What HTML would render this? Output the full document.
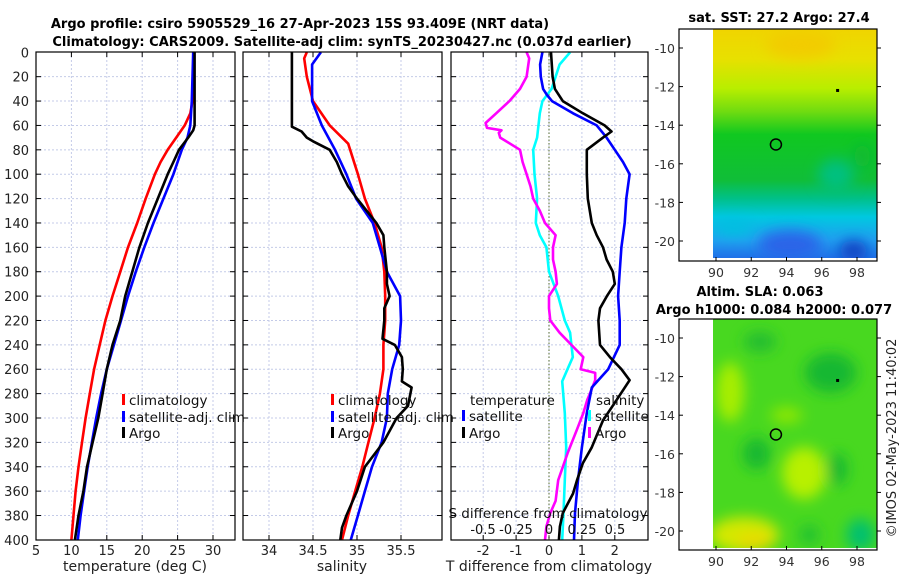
<!DOCTYPE html>
<html><head><meta charset="utf-8">
<style>
html,body{margin:0;padding:0;background:#fff;}
svg{display:block;font-family:"DejaVu Sans","Liberation Sans",sans-serif;}
</style></head>
<body>
<svg id="fig" width="900" height="580" viewBox="0 0 900 580" xmlns="http://www.w3.org/2000/svg">
<defs>
<filter id="blur" x="-50%" y="-50%" width="200%" height="200%"><feGaussianBlur stdDeviation="7"/></filter>
<clipPath id="clip1"><rect x="713" y="29" width="164" height="229"/></clipPath>
<clipPath id="clip2"><rect x="713" y="319" width="164" height="229"/></clipPath>
<linearGradient id="sstgrad" x1="0" y1="29" x2="0" y2="258" gradientUnits="userSpaceOnUse">
<stop offset="0" stop-color="#f0d400"/><stop offset="0.13" stop-color="#e8e000"/>
<stop offset="0.26" stop-color="#b8ee00"/><stop offset="0.36" stop-color="#70dc10"/>
<stop offset="0.46" stop-color="#10c820"/><stop offset="0.66" stop-color="#10be38"/>
<stop offset="0.74" stop-color="#00c088"/><stop offset="0.82" stop-color="#00c8e0"/>
<stop offset="0.92" stop-color="#20a0f0"/><stop offset="1" stop-color="#2070e8"/>
</linearGradient>
</defs>
<text x="300" y="28" text-anchor="middle" font-size="13" font-weight="bold">Argo profile: csiro 5905529_16 27-Apr-2023 15S 93.409E (NRT data)</text>
<text x="342" y="46" text-anchor="middle" font-size="13" font-weight="bold">Climatology: CARS2009. Satellite-adj clim: synTS_20230427.nc (0.037d earlier)</text>
<g id="g"></g>
</svg>
<script>
// ---- data ----
const depthTicks=[0,20,40,60,80,100,120,140,160,180,200,220,240,260,280,300,320,340,360,380,400];
const tempTicks=[5,10,15,20,25,30];
const salTicks=[34,34.5,35,35.5];
const tdiffTicks=[-2,-1,0,1,2];
const sdiffTicks=[-0.5,-0.25,0,0.25,0.5];

const tArgoDepth=[0,60,64,70,80,90,100,120,140,160,180,200,220,240,260,280,300,320,340,360,380,400];
const tArgo=[27.4,27.4,27.2,26.5,25.2,24.4,23.6,22.2,20.8,19.6,18.6,17.6,16.9,15.8,15.0,14.4,13.8,13.0,12.2,11.7,11.0,10.5];
const tClimDepth=[0,40,50,60,70,80,90,100,120,140,160,180,200,220,240,260,280,300,320,340,360,380,400];
const tClim=[27.3,27.1,26.8,26.0,24.8,23.6,22.6,21.8,20.5,19.3,18.0,16.9,15.8,14.8,14.0,13.2,12.6,12.0,11.5,11.0,10.6,10.3,10.0];
const tSatDepth=[0,40,60,70,80,100,120,140,160,180,200,220,240,260,280,300,320,340,360,380,400];
const tSat=[27.2,27.0,26.8,26.4,25.6,24.4,23.0,21.6,20.3,19.1,18.0,17.0,16.0,15.0,14.2,13.5,12.9,12.3,11.8,11.3,10.9];

const sArgoDepth=[0,61,65,70,73,80,90,100,110,120,130,140,150,160,180,190,200,210,220,235,240,250,260,270,275,290,300,320,340,360,380,390,400];
const sArgo=[34.26,34.26,34.37,34.43,34.5,34.69,34.77,34.83,34.9,35.0,35.11,35.22,35.3,35.31,35.34,35.34,35.37,35.31,35.31,35.29,35.43,35.51,35.52,35.51,35.62,35.58,35.45,35.3,35.09,35.0,34.88,34.83,34.81];
const sClimDepth=[0,5,20,40,60,75,100,120,140,160,180,200,220,240,260,280,300,320,340,360,380,400];
const sClim=[34.43,34.4,34.43,34.5,34.69,34.9,35.01,35.09,35.2,35.28,35.31,35.32,35.32,35.3,35.3,35.26,35.2,35.13,35.06,34.98,34.9,34.83];
const sSatDepth=[0,10,40,60,80,100,120,140,160,180,200,220,240,260,280,300,320,340,360,380,400];
const sSat=[34.59,34.49,34.49,34.6,34.75,34.88,34.99,35.18,35.26,35.34,35.49,35.5,35.48,35.4,35.35,35.34,35.28,35.17,35.09,35.01,34.93];

const dtArgoDepth=[0,20,30,40,50,60,65,70,80,100,120,140,150,160,170,180,190,200,210,220,240,250,260,269,285,302,324,337,351,362,378,389,400];
const dtArgo=[0.06,0.11,0.18,0.42,1.03,1.69,1.9,1.64,1.15,1.15,1.18,1.3,1.45,1.64,1.75,1.94,2.0,1.76,1.55,1.5,1.55,1.85,2.2,2.45,2.06,1.64,1.3,1.03,0.85,0.73,0.42,0.33,0.3];
const dtSatDepth=[0,10,20,30,35,40,50,60,70,80,90,100,120,140,160,180,200,220,240,260,275,296,324,351,378,400];
const dtSat=[-0.2,-0.27,-0.25,-0.18,-0.06,0.09,0.73,1.45,1.75,2.0,2.25,2.45,2.35,2.3,2.2,2.15,2.1,2.15,2.15,1.8,1.3,1.15,1.0,0.88,0.79,0.76];
const dsArgoDepth=[0,5,20,30,40,50,58,62,64,66,70,80,90,100,110,120,130,140,150,160,170,180,190,200,210,220,230,240,250,260,263,269,280,285,296,310,329,351,368,378,389,400];
const dsArgo=[-0.17,-0.15,-0.17,-0.22,-0.3,-0.4,-0.48,-0.47,-0.36,-0.38,-0.37,-0.22,-0.2,-0.17,-0.14,-0.12,-0.07,-0.03,0.05,0.03,0.03,0.05,0.06,0,0,0.01,0.08,0.17,0.26,0.24,0.35,0.35,0.31,0.29,0.26,0.21,0.14,0.07,0.05,0.01,-0.02,-0.03];
const dsSatDepth=[0,10,20,30,40,50,70,80,100,120,140,150,160,180,200,220,230,240,250,260,270,296,324,351,378,400];
const dsSat=[0.16,0.08,0.05,0.02,-0.05,-0.07,-0.09,-0.12,-0.11,-0.09,-0.1,-0.07,-0.02,0,0.07,0.12,0.16,0.17,0.18,0.14,0.1,0.12,0.13,0.12,0.11,0.1];

const latTicks=[-10,-12,-14,-16,-18,-20];
const lonTicks=[90,92,94,96,98];
const argoLon=[93.4], argoLat=[-15.0];

// ---- scales ----
const yD=d=>52.3+d*1.219;
const xT=t=>36+(t-5)*7.08;
const xS=s=>269+(s-34)*88;
const xDT=v=>549+v*32.9;
const xDS=v=>549+v*132;
const mX=lon=>716+(lon-90)*17.625;
const mY1=lat=>48+(-10-lat)*19.3;
const mY2=lat=>338+(-10-lat)*19.3;

const NS="http://www.w3.org/2000/svg";
const G=document.getElementById('g');
function mk(tag,attrs,parent){const e=document.createElementNS(NS,tag);for(const k in attrs)e.setAttribute(k,attrs[k]);(parent||G).appendChild(e);return e;}
function txt(s,attrs,parent){const e=mk('text',attrs,parent);e.textContent=s;return e;}

const panels=[{x0:36,x1:235,name:'temperature-panel'},{x0:243,x1:442,name:'salinity-panel'},{x0:451,x1:648,name:'difference-panel'}];
const Y0=52,Y1=540;
// grid horizontal
panels.forEach(p=>{
  depthTicks.forEach(d=>{
    if(d===0||d===400)return;
    const l=mk('line',{x1:p.x0,x2:p.x1,y1:yD(d),y2:yD(d),stroke:'#c4cbe8','stroke-width':1,'stroke-dasharray':'2,2'});
    
    
    const t1=mk('line',{x1:p.x0,x2:p.x0+5,y1:yD(d),y2:yD(d),stroke:'#000'});
    
    
    const t2=mk('line',{x1:p.x1-5,x2:p.x1,y1:yD(d),y2:yD(d),stroke:'#000'});
    
    
  });
});
depthTicks.forEach(d=>{
  const t=txt(String(d),{x:29,y:yD(d)+5,'text-anchor':'end','font-size':13,fill:'#222'});
  
  
});
function xgrid(ticks,sc,p,labels){
  ticks.forEach(v=>{
    const x=sc(v);
    if(x>p.x0+1&&x<p.x1-1){
      const l=mk('line',{x1:x,x2:x,y1:Y0,y2:Y1,stroke:'#c4cbe8','stroke-width':1,'stroke-dasharray':'2,2'});
      
      
      const t=mk('line',{x1:x,x2:x,y1:Y1-5,y2:Y1,stroke:'#000'});
      
      
      const t2=mk('line',{x1:x,x2:x,y1:Y0,y2:Y0+5,stroke:'#000'});
      
      
    }
    if(labels){
      const tl=txt(String(v),{x:x,y:555,'text-anchor':'middle','font-size':13,fill:'#222'});
      
      
    }
  });
}
xgrid(tempTicks,xT,panels[0],true);
xgrid(salTicks,xS,panels[1],true);
xgrid(tdiffTicks,xDT,panels[2],true);
// zero line in diff panel
const zl=mk('line',{x1:549,x2:549,y1:Y0,y2:Y1,stroke:'#556b2f','stroke-width':1,'stroke-dasharray':'1.5,2'});



function series(dep,vals,sc,color,name){
  const pts=dep.map((d,i)=>sc(vals[i]).toFixed(1)+','+yD(d).toFixed(1)).join(' ');
  const pl=mk('polyline',{points:pts,fill:'none',stroke:color,'stroke-width':2.6,'stroke-linejoin':'round'});
  
  
}
series(tClimDepth,tClim,xT,'#ff0000','temperature-climatology-line');
series(tSatDepth,tSat,xT,'#0000ff','temperature-satellite-adj-line');
series(tArgoDepth,tArgo,xT,'#000000','temperature-argo-line');
series(sClimDepth,sClim,xS,'#ff0000','salinity-climatology-line');
series(sSatDepth,sSat,xS,'#0000ff','salinity-satellite-adj-line');
series(sArgoDepth,sArgo,xS,'#000000','salinity-argo-line');
series(dsSatDepth,dsSat,xDS,'#00ffff','salinity-diff-satellite-line');
series(dsArgoDepth,dsArgo,xDS,'#ff00ff','salinity-diff-argo-line');
series(dtSatDepth,dtSat,xDT,'#0000ff','temperature-diff-satellite-line');
series(dtArgoDepth,dtArgo,xDT,'#000000','temperature-diff-argo-line');

// frames
panels.forEach(p=>{
  const r=mk('rect',{x:p.x0,y:Y0,width:p.x1-p.x0,height:Y1-Y0,fill:'none',stroke:'#000','stroke-width':1.2});
  
  
});
// axis titles
[['temperature (deg C)',135,'temperature-axis-title'],['salinity',342,'salinity-axis-title'],['T difference from climatology',549,'t-difference-axis-title']].forEach(a=>{
  const t=txt(a[0],{x:a[1],y:571,'text-anchor':'middle','font-size':14,fill:'#222'});
  
  
});
// S difference inner axis
const sdt=txt('S difference from climatology',{x:548,y:518,'text-anchor':'middle','font-size':13.5,fill:'#111'});


sdiffTicks.forEach(v=>{
  const t=txt(String(v).replace('-','-'),{x:xDS(v),y:534,'text-anchor':'middle','font-size':13,fill:'#111'});
  
  
});
// legends
function legend(x,y,color,label,name){
  const r=mk('rect',{x:x,y:y-11,width:3,height:11,fill:color});
  
  
  const t=txt(label,{x:x+7,y:y,'font-size':13.5,fill:'#111'});
  
  
}
legend(122,405,'#ff0000','climatology','legend-climatology');
legend(122,422,'#0000ff','satellite-adj. clim','legend-satellite-adj');
legend(122,438,'#000000','Argo','legend-argo');
legend(331,405,'#ff0000','climatology','legend-climatology-2');
legend(331,422,'#0000ff','satellite-adj. clim','legend-satellite-adj-2');
legend(331,438,'#000000','Argo','legend-argo-2');
const lt=txt('temperature',{x:470,y:405,'font-size':13.5,fill:'#111'});


legend(462,421,'#0000ff','satellite','legend-t-satellite');
legend(462,438,'#000000','Argo','legend-t-argo');
const ls=txt('salinity',{x:596,y:405,'font-size':13.5,fill:'#111'});


legend(588,421,'#00ffff','satellite','legend-s-satellite');
legend(588,438,'#ff00ff','Argo','legend-s-argo');

// ---- maps ----
function mapAxes(top,bot,yfn,prefix){
  const fr=mk('rect',{x:679,y:top,width:198,height:bot-top,fill:'none',stroke:'#000','stroke-width':1.2});
  
  
  latTicks.forEach(l=>{
    const y=yfn(l);
    const t=mk('line',{x1:679,x2:683,y1:y,y2:y,stroke:'#000'});
    
    
    const t2=mk('line',{x1:877,x2:881,y1:y,y2:y,stroke:'#000'});
    
    
    const lb=txt(String(l),{x:675,y:y+5,'text-anchor':'end','font-size':12.5,fill:'#333'});
    
    
  });
  lonTicks.forEach(l=>{
    const x=mX(l);
    const t=mk('line',{x1:x,x2:x,y1:bot-4,y2:bot,stroke:'#000'});
    
    
    const lb=txt(String(l),{x:x,y:bot+16,'text-anchor':'middle','font-size':12.5,fill:'#333'});
    
    
  });
}
// SST map
const m1=mk('g',{'clip-path':'url(#clip1)'});


mk('rect',{x:713,y:29,width:164,height:229,fill:'url(#sstgrad)'},m1);
const b1=mk('g',{filter:'url(#blur)'},m1);
mk('ellipse',{cx:mX(94.8),cy:mY1(-9.8),rx:35,ry:14,fill:'#f2cc00'},b1);
mk('ellipse',{cx:mX(96.8),cy:mY1(-16.6),rx:18,ry:16,fill:'#00c080'},b1);
mk('ellipse',{cx:mX(98.3),cy:mY1(-15.6),rx:8,ry:12,fill:'#10b830'},b1);
mk('ellipse',{cx:mX(94.2),cy:mY1(-20.2),rx:32,ry:14,fill:'#2a64e8'},b1);
mk('ellipse',{cx:mX(97.8),cy:mY1(-20.5),rx:14,ry:10,fill:'#1040c0'},b1);
mk('ellipse',{cx:mX(91),cy:mY1(-19.3),rx:20,ry:8,fill:'#00c0e0'},b1);
mapAxes(29,261,mY1,'sst-map');
// SLA map
const m2=mk('g',{'clip-path':'url(#clip2)'});


mk('rect',{x:713,y:319,width:164,height:229,fill:'#48d820'},m2);
const b2=mk('g',{filter:'url(#blur)'},m2);
mk('ellipse',{cx:mX(90.8),cy:mY2(-12.8),rx:14,ry:30,fill:'#a8ee00'},b2);
mk('ellipse',{cx:mX(94),cy:mY2(-14),rx:16,ry:8,fill:'#90e800'},b2);
mk('ellipse',{cx:mX(95),cy:mY2(-17),rx:22,ry:26,fill:'#b8f000'},b2);
mk('ellipse',{cx:mX(91.6),cy:mY2(-20.2),rx:35,ry:18,fill:'#d4e800'},b2);
mk('ellipse',{cx:mX(92.2),cy:mY2(-20.6),rx:18,ry:8,fill:'#ecd800'},b2);
mk('ellipse',{cx:mX(92.3),cy:mY2(-16),rx:14,ry:16,fill:'#18b830'},b2);
mk('ellipse',{cx:mX(96.5),cy:mY2(-11.8),rx:26,ry:20,fill:'#18b830'},b2);
mk('ellipse',{cx:mX(92.5),cy:mY2(-10.2),rx:16,ry:10,fill:'#20bc30'},b2);
mk('ellipse',{cx:mX(96.9),cy:mY2(-16.8),rx:10,ry:16,fill:'#18b830'},b2);
mk('ellipse',{cx:mX(98.2),cy:mY2(-20.2),rx:14,ry:16,fill:'#00c070'},b2);
mk('ellipse',{cx:mX(95.3),cy:mY2(-20.2),rx:10,ry:10,fill:'#20c030'},b2);
mapAxes(319,550,mY2,'sla-map');
// markers
[mY1,mY2].forEach((yf,k)=>{
  argoLon.forEach((lon,i)=>{
    const c=mk('circle',{cx:mX(lon),cy:yf(argoLat[i]),r:5.5,fill:'none',stroke:'#000','stroke-width':1.5});
    
    
  });
  const d=mk('rect',{x:mX(96.9)-1.5,y:yf(-12.2)-1.5,width:3,height:3,fill:'#000'});
  
  
});
// map titles
[['sat. SST: 27.2 Argo: 27.4',779,22,'sst-map-title'],['Altim. SLA: 0.063',760,296,'sla-map-title'],['Argo h1000: 0.084 h2000: 0.077',774,314,'argo-height-title']].forEach(a=>{
  const t=txt(a[0],{x:a[1],y:a[2],'text-anchor':'middle','font-size':13,'font-weight':'bold',fill:'#000'});
  
  
});
const cp=txt('©IMOS 02-May-2023 11:40:02',{x:0,y:0,'text-anchor':'middle','font-size':13,fill:'#222',transform:'translate(896,438) rotate(-90)'});


</script>
</body></html>
